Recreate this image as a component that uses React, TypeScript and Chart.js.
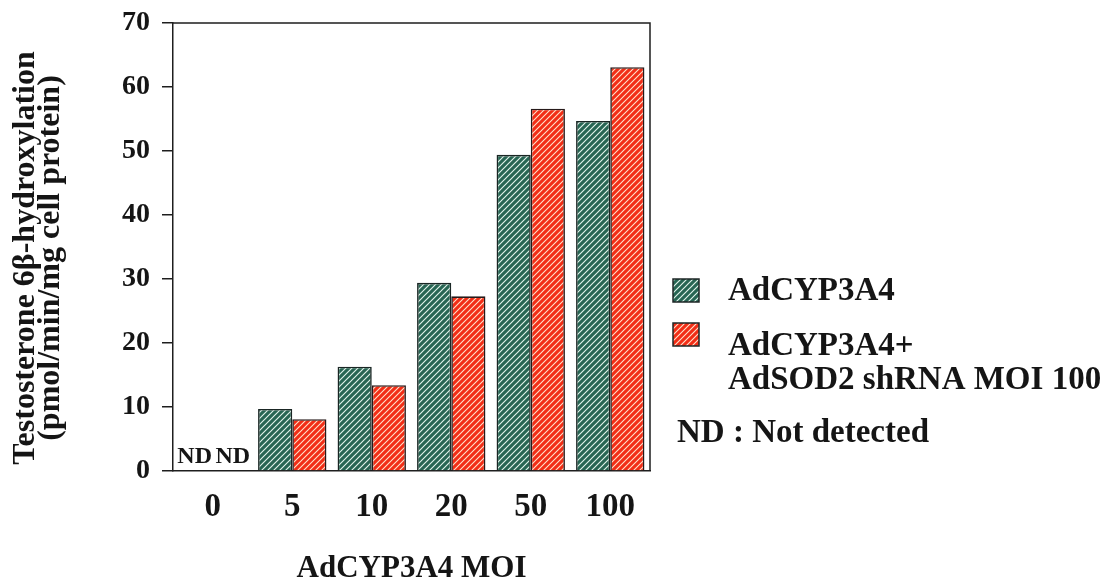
import React, { useEffect, useRef } from "react";
import { Chart, registerables } from "chart.js";

Chart.register(...registerables);

// ---- data ----
const categories = ["0", "5", "10", "20", "50", "100"];
const cypValues: (number | null)[] = [null, 9.7, 16.3, 29.4, 49.4, 54.7];
const cypSodValues: (number | null)[] = [null, 8.1, 13.4, 27.3, 56.6, 63.1];
const yTickValues = [0, 10, 20, 30, 40, 50, 60, 70];
const seriesNames: string[][] = [["AdCYP3A4"], ["AdCYP3A4+", "AdSOD2 shRNA MOI 100"]];
const ndLabel = "ND";
const noteText = "ND : Not detected";
const xTitle = "AdCYP3A4 MOI";
const yTitle = ["Testosterone 6β-hydroxylation", "(pmol/min/mg cell protein)"];

const FONT = "'Liberation Serif', 'Times New Roman', serif";

function makePattern(base: string, stripe: string, lw: number) {
  const s = 6;
  const c = document.createElement("canvas");
  c.width = s;
  c.height = s;
  const g = c.getContext("2d")!;
  g.fillStyle = base;
  g.fillRect(0, 0, s, s);
  g.strokeStyle = stripe;
  g.lineWidth = lw;
  g.beginPath();
  g.moveTo(-1, s + 1);
  g.lineTo(s + 1, -1);
  g.moveTo(-1, 1);
  g.lineTo(1, -1);
  g.moveTo(s - 1, s + 1);
  g.lineTo(s + 1, s - 1);
  g.stroke();
  return g.createPattern(c, "repeat")!;
}

const decorPlugin = {
  id: "decor",
  afterDatasetsDraw(chart: any) {
    const { ctx, chartArea: a } = chart;
    ctx.save();
    // top & right frame
    ctx.strokeStyle = "#1e1e1e";
    ctx.lineWidth = 1.5;
    ctx.beginPath();
    ctx.moveTo(a.left, a.top);
    ctx.lineTo(a.right, a.top);
    ctx.lineTo(a.right, a.bottom);
    ctx.stroke();

    // ND labels for missing values
    ctx.font = `bold 24px ${FONT}`;
    ctx.fillStyle = "#151515";
    ctx.textAlign = "center";
    ctx.textBaseline = "alphabetic";
    const xs = chart.scales.x;
    chart.data.datasets.forEach((ds: any, i: number) => {
      const meta = chart.getDatasetMeta(i);
      ds.data.forEach((v: any, j: number) => {
        if (v == null) {
          let x = meta.data[j] ? meta.data[j].x : NaN;
          if (!isFinite(x)) {
            const w = ((a.right - a.left) / categories.length) * 0.43;
            x = xs.getPixelForValue(j) + (i === 0 ? -w / 2 : w / 2);
          }
          ctx.fillText(ndLabel, x + (i === 0 ? -1 : 3), a.bottom - 8);
        }
      });
    });

    // y-axis title (two rotated lines)
    ctx.save();
    ctx.font = `bold 32px ${FONT}`;
    ctx.textAlign = "center";
    ctx.textBaseline = "middle";
    const titleCenterY = 258;
    const lineXs = [26, 51];
    yTitle.forEach((t, k) => {
      ctx.save();
      ctx.translate(lineXs[k], titleCenterY);
      ctx.rotate(-Math.PI / 2);
      ctx.fillText(t, 0, 0);
      ctx.restore();
    });
    ctx.restore();

    // legend
    const boxX = 673;
    const boxW = 26;
    const boxH = 23;
    const boxYs = [279, 323];
    const textX = 728;
    const baselines = [[300], [355, 389]];
    ctx.textAlign = "left";
    ctx.textBaseline = "alphabetic";
    ctx.font = `bold 33px ${FONT}`;
    chart.data.datasets.forEach((ds: any, i: number) => {
      ctx.fillStyle = ds.backgroundColor;
      ctx.fillRect(boxX, boxYs[i], boxW, boxH);
      ctx.strokeStyle = "#1e2626";
      ctx.lineWidth = 1.5;
      ctx.strokeRect(boxX, boxYs[i], boxW, boxH);
      ctx.fillStyle = "#151515";
      seriesNames[i].forEach((t, k) => ctx.fillText(t, textX, baselines[i][k]));
    });
    ctx.fillText(noteText, 677, 442);
    ctx.restore();
  },
};

export default function App() {
  const ref = useRef<HTMLCanvasElement | null>(null);

  useEffect(() => {
    document.body.style.margin = "0";
    const canvas = ref.current!;
    const green = makePattern("#276553", "#e2f4ec", 1.15);
    const red = makePattern("#f22d16", "#ffe2cc", 1.1);

    const chart = new Chart(canvas, {
      type: "bar",
      data: {
        labels: categories,
        datasets: [
          {
            label: seriesNames[0].join(" "),
            data: cypValues,
            backgroundColor: green as any,
            borderColor: "#1a2624",
            borderWidth: 1.6,
            categoryPercentage: 0.86,
            barPercentage: 1.0,
          },
          {
            label: seriesNames[1].join(" "),
            data: cypSodValues,
            backgroundColor: red as any,
            borderColor: "#261a1a",
            borderWidth: 1.6,
            categoryPercentage: 0.86,
            barPercentage: 1.0,
          },
        ],
      },
      options: {
        responsive: false,
        animation: false,
        layout: { padding: { left: 0, top: 23, right: 470, bottom: 0 } },
        plugins: {
          legend: { display: false },
          tooltip: { enabled: false },
        },
        scales: {
          x: {
            grid: { display: false, drawTicks: false },
            border: { display: true, color: "#1e1e1e", width: 1.5 },
            ticks: {
              color: "#151515",
              font: { family: FONT, size: 33, weight: "bold" },
              padding: 17,
              maxRotation: 0,
            },
            title: {
              display: true,
              text: xTitle,
              color: "#151515",
              font: { family: FONT, size: 31, weight: "bold", lineHeight: 1 },
              padding: { top: 0, bottom: -3 },
            },
            afterFit: (scale: any) => {
              scale.height = 110;
              scale.paddingLeft = 0;
              scale.paddingRight = 0;
            },
          },
          y: {
            min: 0,
            max: 70,
            afterBuildTicks: (scale: any) => {
              scale.ticks = yTickValues.map((v) => ({ value: v }));
            },
            grid: {
              drawOnChartArea: false,
              drawTicks: true,
              tickLength: 11,
              color: "#1e1e1e",
              lineWidth: 1.5,
            },
            border: { display: true, color: "#1e1e1e", width: 1.5 },
            ticks: {
              color: "#151515",
              font: { family: FONT, size: 28, weight: "bold" },
              padding: 12,
            },
            title: { display: false },
            afterFit: (scale: any) => {
              scale.width = 173;
              scale.paddingTop = 0;
              scale.paddingBottom = 0;
            },
          },
        },
      },
      plugins: [decorPlugin],
    });
    return () => chart.destroy();
  }, []);

  return (
    <div style={{ width: 1120, height: 581, position: "relative" }}>
      <canvas ref={ref} width={1120} height={581} style={{ display: "block" }} />
    </div>
  );
}
